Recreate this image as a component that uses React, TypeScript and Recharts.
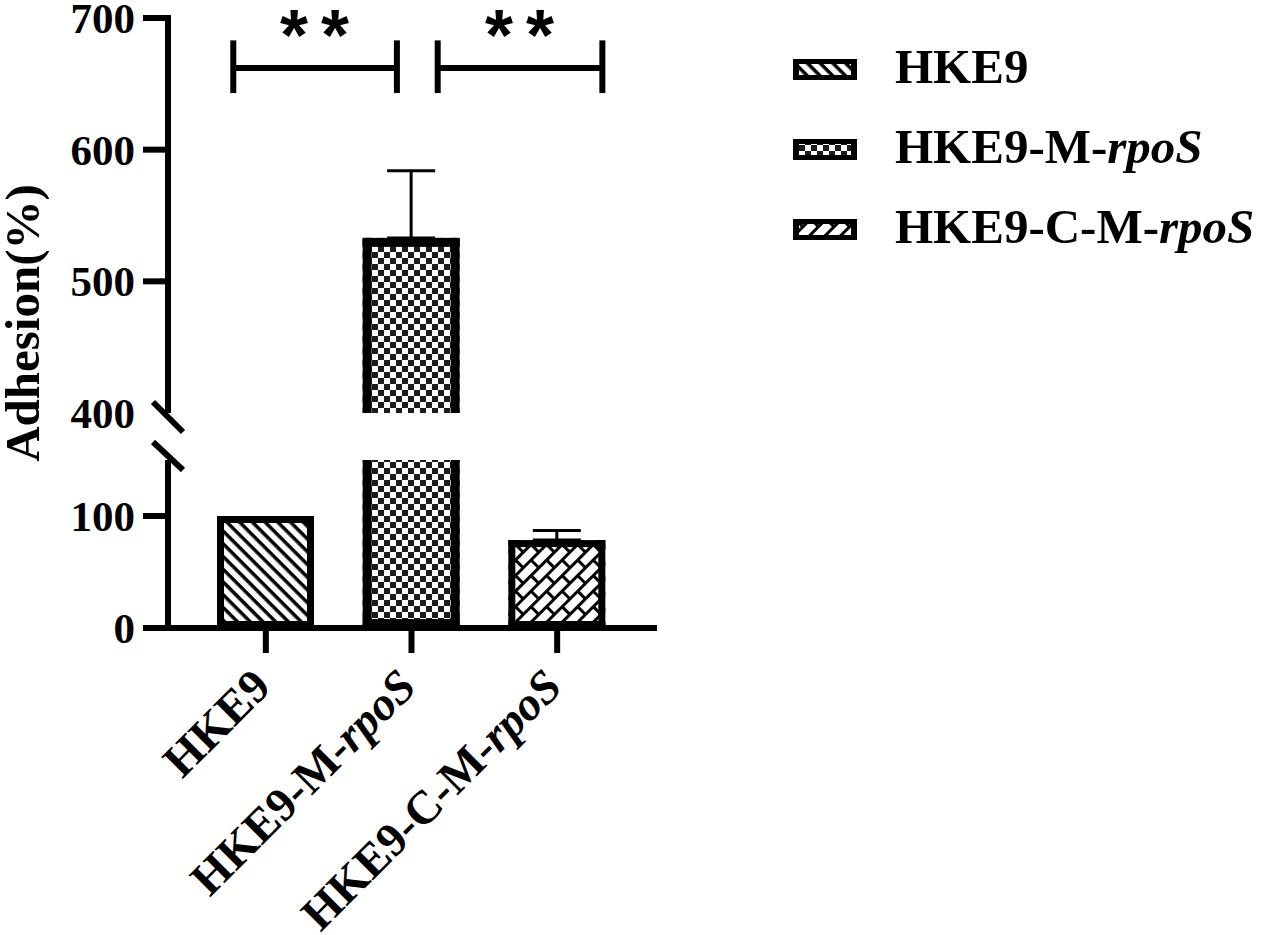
import React from 'react';
import {
  BarChart, Bar, XAxis, YAxis, ErrorBar, ReferenceLine, ReferenceDot, Legend,
} from 'recharts';

const SERIF = '"Liberation Serif", "Times New Roman", serif';

// data
const categories = ['HKE9', 'HKE9-M-rpoS', 'HKE9-C-M-rpoS'];
const GENE = 'rpoS';
const adhesion = [100, 533, 78.5];
const adhesionSd = [null, 51, 8.5];
const upperTicks = [400, 500, 600, 700];
const lowerTicks = [0, 100, 150];
const upperDomain = [400, 700];
const lowerDomain = [0, 150];

// significance brackets, x in bar positions (1 = first bar centre)
const brackets = [
  { from: 0.777, to: 1.9, y: 662, tickTop: 683, tickBottom: 643, label: '**' },
  { from: 2.18, to: 3.31, y: 662, tickTop: 683, tickBottom: 643, label: '**' },
];
const xDomain = [0.329, 3.685];

const patternIds = ['diag', 'check', 'brick'];
const borderWidths = [7, 9, 7];

const TICK_SIZE = 25;
const TICK_MARGIN = 8;
const AXIS_W = 6;

const upperData = categories.map((name, i) => ({
  pos: i + 1,
  name,
  value: adhesion[i],
  err: adhesionSd[i] != null && adhesion[i] >= upperDomain[0] ? [0, adhesionSd[i]] : undefined,
}));

const lowerData = categories.map((name, i) => ({
  name,
  value: adhesion[i],
  err: adhesionSd[i] != null && adhesion[i] + (adhesionSd[i] as number) <= lowerDomain[1]
    ? [0, adhesionSd[i]] : undefined,
}));

function Patterns() {
  return (
    <defs>
      <pattern id="p-diag" width={9} height={9} patternUnits="userSpaceOnUse" patternTransform="rotate(45)">
        <rect width={9} height={9} fill="#fff" />
        <rect width={9} height={3.5} fill="#000" />
      </pattern>
      <pattern id="p-check" width={12} height={12} patternUnits="userSpaceOnUse">
        <rect width={12} height={12} fill="#fff" />
        <rect width={6} height={6} fill="#1c1c1c" />
        <rect x={6} y={6} width={6} height={6} fill="#1c1c1c" />
      </pattern>
      <pattern id="p-brick" width={22} height={22} patternUnits="userSpaceOnUse" patternTransform="rotate(-45)">
        <rect width={22} height={22} fill="#fff" />
        <rect width={22} height={3} fill="#000" />
        <rect y={11} width={22} height={3} fill="#000" />
        <rect width={3} height={11} fill="#000" />
        <rect x={11} y={11} width={3} height={11} fill="#000" />
      </pattern>
    </defs>
  );
}

// bar with the border drawn inside, open on the side that crosses the axis break
function makeBarShape(part: 'upper' | 'lower', plot: [number, number]) {
  return function BarShape(props: any) {
    const { x, width, payload, background } = props;
    const i = categories.indexOf(payload.name);
    const sw = borderWidths[i];
    let top = props.y;
    let bottom = props.y + props.height;
    if (top > bottom) [top, bottom] = [bottom, top];
    const plotTop = background ? background.y : plot[0];
    const plotBottom = background ? background.y + background.height : plot[1];
    const openTop = top < plotTop - 0.5;
    const openBottom = part === 'upper' || bottom > plotBottom + 0.5;
    top = Math.max(top, plotTop);
    bottom = Math.min(bottom, plotBottom);
    const h = bottom - top;
    if (h <= 0.5) return <g />;
    return (
      <g>
        <rect x={x} y={top} width={width} height={h} fill={`url(#p-${patternIds[i]})`} />
        <rect x={x} y={top} width={sw} height={h} fill="#000" />
        <rect x={x + width - sw} y={top} width={sw} height={h} fill="#000" />
        {!openTop && <rect x={x} y={top} width={width} height={sw} fill="#000" />}
        {!openBottom && <rect x={x} y={bottom - sw} width={width} height={sw} fill="#000" />}
      </g>
    );
  };
}

function makeYTick(breakValue: number, labelAtBreak: boolean, mark: number[]) {
  return function YTick(props: any) {
    const { x, y, payload } = props;
    const axisX = x + TICK_MARGIN + TICK_SIZE;
    const isBreak = payload.value === breakValue;
    return (
      <g>
        {!isBreak && (
          <line x1={axisX - TICK_SIZE} x2={axisX + 3} y1={y} y2={y} stroke="#000" strokeWidth={AXIS_W} />
        )}
        {isBreak && (
          <line x1={axisX + mark[0]} y1={y + mark[1]} x2={axisX + mark[2]} y2={y + mark[3]}
            stroke="#000" strokeWidth={AXIS_W} />
        )}
        {(!isBreak || labelAtBreak) && (
          <text x={x} y={y} dy={15} textAnchor="end" fontFamily={SERIF} fontWeight="bold"
            fontSize={43} fill="#000">
            {payload.value}
          </text>
        )}
      </g>
    );
  };
}

function XTick(props: any) {
  const { x, y, payload } = props;
  const name: string = payload.value;
  const hasGene = name.endsWith(GENE);
  const plain = hasGene ? name.slice(0, -GENE.length) : name;
  return (
    <text transform={`translate(${x + 7},${y + 36}) rotate(-45)`} textAnchor="end"
      fontFamily={SERIF} fontWeight="bold" fontSize={47} fill="#000">
      {plain}
      {hasGene && <tspan fontStyle="italic">{GENE}</tspan>}
    </text>
  );
}

const renderYTitle = () => (
  <text transform="translate(39,323) rotate(-90)" textAnchor="middle" fontFamily={SERIF}
    fontWeight="bold" fontSize={49} fill="#000">
    Adhesion(%)
  </text>
);

const renderLegend = () => (
  <div style={{ fontFamily: SERIF, fontWeight: 'bold', fontSize: 49, color: '#000' }}>
    {categories.map((c, i) => {
      const hasGene = c.endsWith(GENE);
      return (
        <div key={c} style={{ display: 'flex', alignItems: 'center', height: 80, whiteSpace: 'nowrap' }}>
          <svg width={64} height={21} style={{ marginRight: 38, flex: 'none', marginTop: 6 }}>
            <rect width={64} height={21} fill="#000" />
            <rect x={6} y={5} width={52} height={11} fill={`url(#p-${patternIds[i]})`} />
          </svg>
          <span>
            {hasGene ? c.slice(0, -GENE.length) : c}
            {hasGene && <i>{GENE}</i>}
          </span>
        </div>
      );
    })}
  </div>
);

const renderStars = (text: string) => (p: any) => (
  <text x={p.cx + 6} y={p.cy + 38} textAnchor="middle" fontFamily='"Liberation Sans", Arial, sans-serif'
    fontWeight="bold" fontSize={72} letterSpacing={13} fill="#000">
    {text}
  </text>
);

const axisStyle = { stroke: '#000', strokeWidth: AXIS_W };

export default function App() {
  return (
    <div style={{ position: 'absolute', left: 0, top: 0, width: 1264, height: 935, background: '#fff' }}>
      <svg width={0} height={0} style={{ position: 'absolute' }}>
        <Patterns />
      </svg>

      {/* upper segment 400-700 */}
      <div style={{ position: 'absolute', left: 0, top: 0 }}>
        <BarChart width={1264} height={470} data={upperData}
          margin={{ top: 18, right: 607, bottom: 57, left: 0 }}>
          <XAxis dataKey="pos" type="number" domain={xDomain} hide allowDataOverflow />
          <YAxis width={168} domain={upperDomain} ticks={upperTicks} allowDataOverflow interval={0}
            axisLine={axisStyle} tickLine={false} tickSize={TICK_SIZE} tickMargin={TICK_MARGIN}
            tick={makeYTick(400, true, [-15, -11, 15, 19])} />
          <Bar dataKey="value" barSize={97} isAnimationActive={false}
            shape={makeBarShape('upper', [18, 413])}>
            <ErrorBar dataKey="err" direction="y" width={24} strokeWidth={3} stroke="#000" />
          </Bar>
          {brackets.map((b, i) => (
            <ReferenceLine key={`h${i}`} stroke="#000" strokeWidth={6}
              segment={[{ x: b.from, y: b.y }, { x: b.to, y: b.y }]} />
          ))}
          {brackets.flatMap((b, i) => [b.from, b.to].map((bx, j) => (
            <ReferenceLine key={`v${i}-${j}`} stroke="#000" strokeWidth={6}
              segment={[{ x: bx, y: b.tickBottom }, { x: bx, y: b.tickTop }]} />
          )))}
          {brackets.map((b, i) => (
            <ReferenceDot key={`s${i}`} x={(b.from + b.to) / 2} y={697} r={0}
              shape={renderStars(b.label)} />
          ))}
          <Legend layout="vertical" align="center" verticalAlign="middle" content={renderLegend}
            wrapperStyle={{ left: 793, top: 26, width: 'auto' }} />
        </BarChart>
      </div>

      {/* lower segment 0-150 */}
      <div style={{ position: 'absolute', left: 0, top: 0 }}>
        <BarChart width={700} height={935} data={lowerData}
          margin={{ top: 460, right: 43, bottom: 0, left: 0 }}>
          <XAxis dataKey="name" height={307} padding={{ left: 25, right: 27 }} interval={0}
            axisLine={axisStyle} tickLine={axisStyle} tickSize={TICK_SIZE} tickMargin={0}
            tick={<XTick />} />
          <YAxis width={168} domain={lowerDomain} ticks={lowerTicks} allowDataOverflow interval={0}
            axisLine={axisStyle} tickLine={false} tickSize={TICK_SIZE} tickMargin={TICK_MARGIN}
            tick={makeYTick(150, false, [-15, -18, 15, 10])} label={renderYTitle} />
          <Bar dataKey="value" barSize={97} isAnimationActive={false}
            shape={makeBarShape('lower', [460, 628])}>
            <ErrorBar dataKey="err" direction="y" width={24} strokeWidth={3} stroke="#000" />
          </Bar>
        </BarChart>
      </div>
    </div>
  );
}
